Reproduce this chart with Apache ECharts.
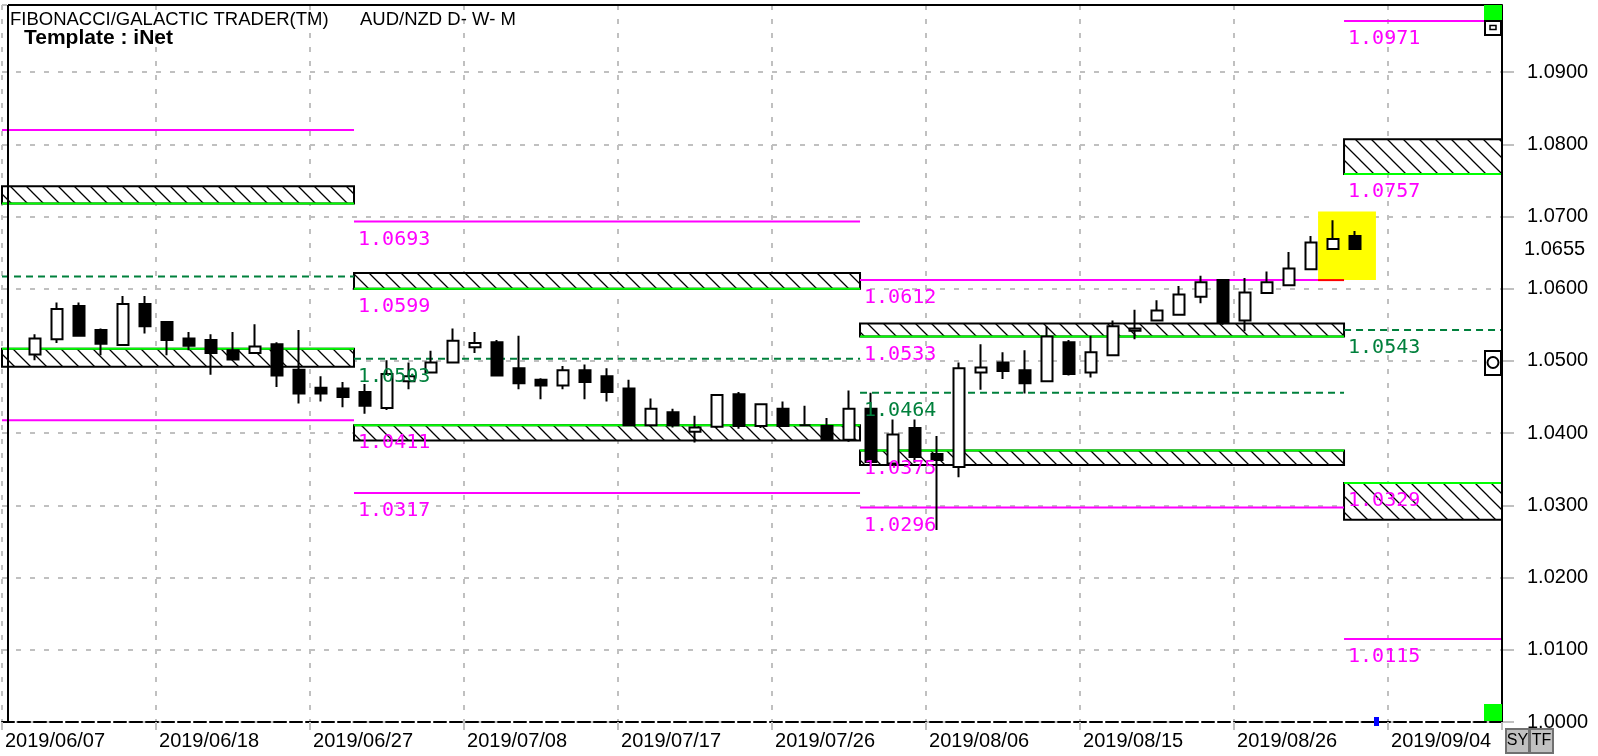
<!DOCTYPE html>
<html><head><meta charset="utf-8">
<script src="https://cdn.jsdelivr.net/npm/echarts@6/dist/echarts.min.js"></script>
<style>html,body{margin:0;padding:0;background:#fff}#c{width:1598px;height:756px}</style>
</head><body><div id="c"></div>
<script>
// ---------------- DATA ----------------
const dates = ['2019/06/10','2019/06/11','2019/06/12','2019/06/13','2019/06/14','2019/06/17','2019/06/18','2019/06/19','2019/06/20','2019/06/21','2019/06/24','2019/06/25','2019/06/26','2019/06/27','2019/06/28',
'2019/07/01','2019/07/02','2019/07/03','2019/07/04','2019/07/05','2019/07/08','2019/07/09','2019/07/10','2019/07/11','2019/07/12','2019/07/15','2019/07/16','2019/07/17','2019/07/18','2019/07/19','2019/07/22','2019/07/23','2019/07/24','2019/07/25','2019/07/26','2019/07/29','2019/07/30','2019/07/31',
'2019/08/01','2019/08/02','2019/08/05','2019/08/06','2019/08/07','2019/08/08','2019/08/09','2019/08/12','2019/08/13','2019/08/14','2019/08/15','2019/08/16','2019/08/19','2019/08/20','2019/08/21','2019/08/22','2019/08/23','2019/08/26','2019/08/27','2019/08/28','2019/08/29','2019/08/30',
'2019/09/02'];
const opens  = [1.0509,1.0530,1.0576,1.0543,1.0522,1.0579,1.0554,1.0531,1.0529,1.0515,1.0511,1.0523,1.0488,1.0463,1.0462,
1.0457,1.0435,1.0472,1.0484,1.0498,1.0519,1.0526,1.0490,1.0474,1.0466,1.0487,1.0479,1.0462,1.0411,1.0429,1.0402,1.0409,1.0454,1.0410,1.0434,1.0411,1.0410,1.0391,
1.0434,1.0358,1.0407,1.0371,1.0353,1.0484,1.0498,1.0487,1.0472,1.0526,1.0484,1.0508,1.0542,1.0556,1.0564,1.0589,1.0612,1.0556,1.0594,1.0605,1.0627,1.0655,
1.0673];
const closes = [1.0531,1.0572,1.0535,1.0524,1.0579,1.0548,1.0529,1.0521,1.0511,1.0502,1.0520,1.0480,1.0455,1.0455,1.0450,
1.0438,1.0482,1.0479,1.0498,1.0528,1.0525,1.0480,1.0469,1.0466,1.0487,1.0471,1.0457,1.0411,1.0434,1.0411,1.0408,1.0453,1.0410,1.0440,1.0410,1.0411,1.0392,1.0434,
1.0360,1.0398,1.0367,1.0363,1.0490,1.0491,1.0486,1.0469,1.0534,1.0482,1.0512,1.0548,1.0545,1.0570,1.0592,1.0609,1.0554,1.0595,1.0609,1.0628,1.0664,1.0669,
1.0655];
const lows   = [1.0501,1.0525,1.0535,1.0508,1.0522,1.0538,1.0508,1.0515,1.0481,1.0502,1.0511,1.0464,1.0441,1.0444,1.0436,
1.0427,1.0432,1.0461,1.0484,1.0498,1.0511,1.0480,1.0461,1.0447,1.0461,1.0447,1.0444,1.0411,1.0409,1.0408,1.0387,1.0407,1.0406,1.0407,1.0410,1.0410,1.0392,1.0388,
1.0357,1.0356,1.0359,1.0266,1.0339,1.0460,1.0475,1.0455,1.0472,1.0480,1.0477,1.0508,1.0530,1.0556,1.0564,1.0580,1.0550,1.0541,1.0594,1.0605,1.0627,1.0655,
1.0654];
const highs  = [1.0537,1.0581,1.0581,1.0545,1.0590,1.0590,1.0554,1.0540,1.0537,1.0540,1.0551,1.0526,1.0543,1.0479,1.0471,
1.0468,1.0501,1.0498,1.0514,1.0545,1.0540,1.0529,1.0535,1.0476,1.0493,1.0495,1.0490,1.0474,1.0448,1.0434,1.0424,1.0453,1.0457,1.0440,1.0444,1.0438,1.0421,1.0459,
1.0456,1.0419,1.0419,1.0396,1.0498,1.0523,1.0512,1.0515,1.0548,1.0529,1.0535,1.0556,1.0571,1.0584,1.0604,1.0618,1.0612,1.0615,1.0624,1.0651,1.0673,1.0695,
1.0680];
const xTickLabels = ['2019/06/07','2019/06/18','2019/06/27','2019/07/08','2019/07/17','2019/07/26','2019/08/06','2019/08/15','2019/08/26','2019/09/04'];
const months = ['2019/06','2019/07','2019/08','2019/09'];
// Fibonacci levels (magenta): [monthIndex, value, label]
const fibLevels = [[0,1.0820,''],[0,1.0418,''],[1,1.0693,'1.0693'],[1,1.0317,'1.0317'],[2,1.0612,'1.0612'],[2,1.0297,'1.0296'],[3,1.0971,'1.0971'],[3,1.0115,'1.0115']];
// Zones (hatched): [monthIndex, greenEdge, otherEdge, label]
const zones = [[0,1.0718,1.0742,''],[0,1.0517,1.0492,''],[1,1.0600,1.0622,'1.0599'],[1,1.0411,1.0390,'1.0411'],[2,1.0534,1.0552,'1.0533'],[2,1.0376,1.0356,'1.0375'],[3,1.0759,1.0807,'1.0757'],[3,1.0331,1.0280,'1.0329']];
// Pivot lines (dashed green): [monthIndex, value, label]
const pivots = [[0,1.0617,''],[1,1.0503,'1.0503'],[2,1.0456,'1.0464'],[3,1.0543,'1.0543']];
// Highlight box of latest bars: [fromIndex, toIndex, top, bottom]
const highlight = [58.32, 60.95, 1.0707, 1.0612];

// ---------------- LAYOUT ----------------
const X_SHIFT = 1.5;           // slot offset of first candle from first tick
const X_MIN = 0, X_MAX = 68.18;
const FONT = '"Liberation Sans", Arial, sans-serif';
const MONO = '"DejaVu Sans Mono", monospace';
const MAG = '#ff00ff', GRN = '#00ff00', DGRN = '#00803c';

const monthStart = months.map(m => dates.findIndex(d => d.indexOf(m) === 0));
function monthRange(mi) {
  const s = mi === 0 ? X_MIN : monthStart[mi] + X_SHIFT - 0.5;
  const e = mi === months.length - 1 ? X_MAX : monthStart[mi + 1] + X_SHIFT - 0.5;
  return [s, e];
}
const lastClose = closes[closes.length - 1];
const items = [];
zones.forEach(z => { const r = monthRange(z[0]); items.push({kind:'zone', x1:r[0], x2:r[1], v:z[1], v2:z[2], label:z[3], lc:MAG}); });
fibLevels.forEach(f => { const r = monthRange(f[0]); items.push({kind:'fib', x1:r[0], x2:r[1], v:f[1], label:f[2], lc:MAG}); });
pivots.forEach(p => { const r = monthRange(p[0]); items.push({kind:'pivot', x1:r[0], x2:r[1], v:p[1], label:p[2], lc:DGRN}); });
items.push({kind:'hl', x1:highlight[0] + X_SHIFT, x2:highlight[1] + X_SHIFT, v:highlight[3], v2:highlight[2], label:''});
items.push({kind:'price', x1:X_MAX, x2:X_MAX, v:lastClose, label:lastClose.toFixed(4)});

const candleData = dates.map((d, i) => [i + X_SHIFT, opens[i], closes[i], lows[i], highs[i]]);

// hatch pattern
const pc = document.createElement('canvas'); pc.width = 16; pc.height = 16;
const pctx = pc.getContext('2d');
pctx.fillStyle = '#fff'; pctx.fillRect(0,0,16,16);
pctx.strokeStyle = '#000'; pctx.lineWidth = 1.3;
pctx.beginPath(); pctx.moveTo(-2,-2); pctx.lineTo(18,18);
pctx.moveTo(-2,14); pctx.lineTo(2,18); pctx.moveTo(14,-2); pctx.lineTo(18,2); pctx.stroke();
const hatch = {image: pc, repeat: 'repeat'};

const EMPTY = {type:'group', children:[]};
function renderLevels(params, api) {
  const L = items[params.dataIndex];
  if (L.kind === 'price') return EMPTY;
  const a = api.coord([L.x1, L.v]), b = api.coord([L.x2, L.v]);
  const ch = [];
  if (L.kind === 'hl') {
    const q = api.coord([L.x1, L.v2]);
    ch.push({type:'rect', shape:{x:a[0], y:q[1], width:b[0]-a[0], height:a[1]-q[1]}, style:{fill:'#ffff00'}});
    return {type:'group', children:ch};
  }
  if (L.kind === 'zone') {
    const q = api.coord([L.x1, L.v2]);
    const y0 = Math.min(a[1], q[1]), h = Math.abs(a[1] - q[1]);
    ch.push({type:'rect', shape:{x:a[0], y:y0, width:b[0]-a[0], height:h}, style:{fill:hatch, stroke:'#000', lineWidth:2}});
    ch.push({type:'line', shape:{x1:a[0], y1:a[1], x2:b[0], y2:b[1]}, style:{stroke:GRN, lineWidth:2}});
  } else if (L.kind === 'fib') {
    ch.push({type:'line', shape:{x1:a[0], y1:a[1], x2:b[0], y2:b[1]}, style:{stroke:MAG, lineWidth:2}});
  } else {
    ch.push({type:'line', shape:{x1:a[0], y1:a[1], x2:b[0], y2:b[1]}, style:{stroke:DGRN, lineWidth:2, lineDash:[7,5]}});
  }
  return {type:'group', children:ch};
}
function renderLabels(params, api) {
  const L = items[params.dataIndex];
  if (!L.label) return EMPTY;
  const a = api.coord([L.x1, L.v]);
  if (L.kind === 'price') {
    return {type:'text', style:{text:L.label, x:a[0] + 22, y:a[1], fill:'#000', font:'20px ' + FONT, align:'left', verticalAlign:'middle'}};
  }
  return {type:'text', style:{text:L.label, x:a[0] + 4, y:a[1] + 18, fill:L.lc, font:'20px ' + MONO, align:'left', verticalAlign:'middle'}};
}
function renderHlEdge(params, api) {
  const L = items[params.dataIndex];
  if (L.kind !== 'hl') return EMPTY;
  const a = api.coord([L.x1, L.v]);
  const b = api.coord([monthRange(2)[1], L.v]);
  return {type:'line', shape:{x1:a[0], y1:a[1], x2:b[0], y2:b[1]}, style:{stroke:'#ff0000', lineWidth:2}};
}
const levelData = items.map(L => [L.x1, L.v, L.x2]);

const chart = echarts.init(document.getElementById('c'), null, {renderer:'canvas'});
chart.setOption({
  animation: false,
  backgroundColor: '#fff',
  grid: {left: 2, top: 5, right: 96, bottom: 34, outerBoundsMode: 'none', containLabel: false},
  xAxis: {
    type: 'value', min: X_MIN, max: X_MAX, interval: 7,
    axisLine: {show: true, onZero: false, lineStyle: {color: '#000', width: 2, type: [12, 4]}},
    axisTick: {show: true, length: 8, lineStyle: {color: '#c0c0c0', width: 2}},
    splitLine: {show: true, lineStyle: {color: '#c0c0c0', width: 2, type: [5, 9]}},
    axisLabel: {
      show: true, color: '#000', fontSize: 20, fontFamily: FONT, align: 'left', margin: 9, padding: [0, 0, 0, 3],
      hideOverlap: false,
      formatter: v => { const m = Math.round(v / 7); return Math.abs(v - 7 * m) < 1e-6 ? (xTickLabels[m] || '') : ''; }
    }
  },
  yAxis: {
    type: 'value', position: 'right', min: 1.0, max: 1.0993, interval: 0.01,
    axisLine: {show: true, onZero: false, lineStyle: {color: '#000', width: 2}},
    axisTick: {show: true, length: 12, lineStyle: {color: '#c0c0c0', width: 2}},
    splitLine: {show: true, lineStyle: {color: '#c0c0c0', width: 2, type: [5, 9]}},
    axisLabel: {show: true, color: '#000', fontSize: 20, fontFamily: FONT, margin: 25, showMaxLabel: false, hideOverlap: false,
      formatter: v => v.toFixed(4)}
  },
  series: [
    {type: 'custom', name: 'levels', z: 1, renderItem: renderLevels, data: levelData, encode: {x: [0, 2], y: 1}, silent: true},
    {type: 'custom', name: 'hlEdge', z: 2, renderItem: renderHlEdge, data: levelData, encode: {x: [0, 2], y: 1}, silent: true},
    {type: 'candlestick', name: 'AUD/NZD', z: 3, barWidth: 12, data: candleData,
      itemStyle: {color: '#fff', color0: '#000', borderColor: '#000', borderColor0: '#000', borderWidth: 2}},
    {type: 'custom', name: 'labels', z: 5, clip: false, renderItem: renderLabels, data: levelData, encode: {x: [0, 2], y: 1}, silent: true}
  ],
  graphic: [
    {type: 'line', shape: {x1: 8, y1: 5, x2: 1502, y2: 5}, style: {stroke: '#000', lineWidth: 2}, z: 10},
    {type: 'line', shape: {x1: 8, y1: 5, x2: 8, y2: 722}, style: {stroke: '#000', lineWidth: 2}, z: 10},
    {type: 'line', shape: {x1: 1502, y1: 5, x2: 1502, y2: 722}, style: {stroke: '#000', lineWidth: 2}, z: 10},
    {type: 'text', left: 10, top: 10, style: {text: 'FIBONACCI/GALACTIC TRADER(TM)', font: '18.5px ' + FONT, fill: '#000'}, z: 10},
    {type: 'text', left: 360, top: 10, style: {text: 'AUD/NZD D- W- M', font: '18.5px ' + FONT, fill: '#000'}, z: 10},
    {type: 'text', left: 24, top: 28, style: {text: 'Template : iNet', font: 'bold 21px ' + FONT, fill: '#000'}, z: 10},
    {type: 'rect', shape: {x: 1484, y: 5, width: 18, height: 15}, style: {fill: '#00ff00'}, z: 10},
    {type: 'rect', shape: {x: 1485, y: 21, width: 16, height: 14}, style: {fill: '#fff', stroke: '#000', lineWidth: 2}, z: 10},
    {type: 'rect', shape: {x: 1490, y: 25.5, width: 6, height: 4}, style: {fill: '#fff', stroke: '#000', lineWidth: 1.5}, z: 11},
    {type: 'rect', shape: {x: 1485, y: 351, width: 16, height: 24}, style: {fill: '#fff', stroke: '#000', lineWidth: 2}, z: 10},
    {type: 'circle', shape: {cx: 1493, cy: 362.5, r: 5.5}, style: {fill: '#fff', stroke: '#000', lineWidth: 2}, z: 11},
    {type: 'rect', shape: {x: 1484, y: 704, width: 18, height: 17}, style: {fill: '#00ff00'}, z: 10},
    {type: 'rect', shape: {x: 1374, y: 717, width: 5, height: 9}, style: {fill: '#0000ff'}, z: 10},
    {type: 'rect', shape: {x: 1506, y: 729, width: 23, height: 24}, style: {fill: '#c0c0c0', stroke: '#707070', lineWidth: 2}, z: 10},
    {type: 'text', x: 1517.5, y: 741, style: {text: 'SY', font: '16px ' + FONT, fill: '#000', align: 'center', verticalAlign: 'middle'}, z: 11},
    {type: 'rect', shape: {x: 1530, y: 729, width: 23, height: 24}, style: {fill: '#c0c0c0', stroke: '#707070', lineWidth: 2}, z: 10},
    {type: 'text', x: 1541.5, y: 741, style: {text: 'TF', font: '16px ' + FONT, fill: '#000', align: 'center', verticalAlign: 'middle'}, z: 11}
  ]
});
</script></body></html>
